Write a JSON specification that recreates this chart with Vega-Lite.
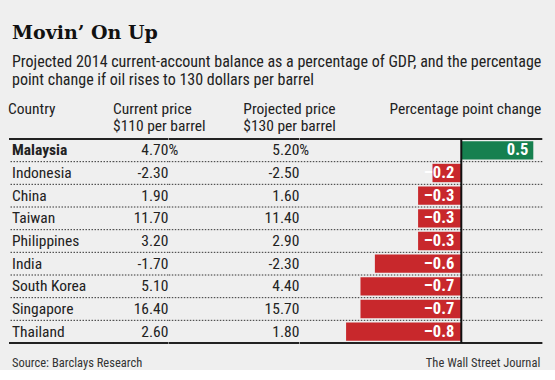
{
  "$schema": "https://vega.github.io/schema/vega-lite/v6.json",
  "background": "#efefef",
  "padding": {"left": 8, "top": 23, "right": 12, "bottom": 0},
  "bounds": "flush",
  "spacing": 0,
  "title": {
    "text": "Movin’ On Up",
    "subtitle": ["Projected 2014 current-account balance as a percentage of GDP, and the percentage", "point change if oil rises to 130 dollars per barrel"],
    "anchor": "start",
    "frame": "group",
    "dx": 3,
    "font": "DejaVu Serif",
    "fontSize": 19,
    "fontWeight": "bold",
    "color": "#111",
    "subtitleFont": "Roboto Condensed, Lato, sans-serif",
    "subtitleFontSize": 16,
    "subtitleLineHeight": 18,
    "subtitleColor": "#222",
    "subtitlePadding": 11,
    "offset": 14
  },
  "config": {
    "view": {"stroke": null},
    "locale": {"number": {"decimal": ".", "thousands": ",", "grouping": [3], "currency": ["$", ""], "minus": "-"}},
    "title": {"font": "Roboto Condensed, Lato, sans-serif", "fontSize": 15.5, "fontWeight": "normal", "color": "#222", "lineHeight": 17, "offset": 4, "anchor": "start"},
    "text": {"font": "Roboto Condensed, Lato, sans-serif", "fontSize": 15.5, "color": "#222", "baseline": "middle"}
  },
  "datasets": {
    "rows": [
      {"country": "Malaysia", "cur": 4.7, "proj": 5.2, "chg": 0.5},
      {"country": "Indonesia", "cur": -2.3, "proj": -2.5, "chg": -0.2},
      {"country": "China", "cur": 1.9, "proj": 1.6, "chg": -0.3},
      {"country": "Taiwan", "cur": 11.7, "proj": 11.4, "chg": -0.3},
      {"country": "Philippines", "cur": 3.2, "proj": 2.9, "chg": -0.3},
      {"country": "India", "cur": -1.7, "proj": -2.3, "chg": -0.6},
      {"country": "South Korea", "cur": 5.1, "proj": 4.4, "chg": -0.7},
      {"country": "Singapore", "cur": 16.4, "proj": 15.7, "chg": -0.7},
      {"country": "Thailand", "cur": 2.6, "proj": 1.8, "chg": -0.8}
    ]
  },
  "hconcat": [
    {
      "width": 105,
      "height": 204,
      "title": {"text": ["Country", " "]},
      "layer": [
        {"data": {"name": "rows"}, "mark": {"type": "rule", "strokeDash": [1.5, 1.5], "color": "#333", "strokeWidth": 1}, "encoding": {"y": {"field": "country", "type": "nominal", "sort": null, "bandPosition": 1, "axis": null, "scale": {"paddingInner": 0, "paddingOuter": 0}}}},
        {"data": {"name": "rows"}, "transform": [{"filter": "datum.country === 'Malaysia'"}], "mark": {"type": "rule", "color": "#222", "strokeWidth": 2}, "encoding": {"y": {"field": "country", "type": "nominal", "sort": null, "bandPosition": 0}}},
        {"data": {"name": "rows"}, "transform": [{"filter": "datum.country === 'Thailand'"}], "mark": {"type": "rule", "color": "#222", "strokeWidth": 2}, "encoding": {"y": {"field": "country", "type": "nominal", "sort": null, "bandPosition": 1}}},
        {"data": {"name": "rows"}, "transform": [{"filter": "datum.country !== 'Malaysia'"}], "mark": {"type": "text", "align": "left", "x": 0, "dx": 3}, "encoding": {"y": {"field": "country", "type": "nominal", "sort": null}, "text": {"field": "country"}}},
        {"data": {"name": "rows"}, "transform": [{"filter": "datum.country === 'Malaysia'"}], "mark": {"type": "text", "align": "left", "x": 0, "dx": 3, "fontWeight": "bold"}, "encoding": {"y": {"field": "country", "type": "nominal", "sort": null}, "text": {"field": "country"}}},
        {"data": {"values": [{"note": "Source: Barclays Research"}]}, "mark": {"type": "text", "align": "left", "x": 0, "dx": 3, "y": "height", "dy": 20, "fontSize": 12.5, "color": "#333"}, "encoding": {"text": {"field": "note"}}}
      ]
    },
    {
      "width": 54.4,
      "height": 204,
      "title": {"text": ["Current price", "$110 per barrel"]},
      "data": {"name": "rows"},
      "encoding": {"y": {"field": "country", "type": "nominal", "sort": null, "axis": null, "scale": {"paddingInner": 0, "paddingOuter": 0}}},
      "layer": [
        {"mark": {"type": "rule", "strokeDash": [1.5, 1.5], "color": "#333", "strokeWidth": 1}, "encoding": {"y": {"field": "country", "type": "nominal", "sort": null, "bandPosition": 1}}},
        {"transform": [{"filter": "datum.country === 'Malaysia'"}], "mark": {"type": "rule", "color": "#222", "strokeWidth": 2}, "encoding": {"y": {"field": "country", "type": "nominal", "sort": null, "bandPosition": 0}}},
        {"transform": [{"filter": "datum.country === 'Thailand'"}], "mark": {"type": "rule", "color": "#222", "strokeWidth": 2}, "encoding": {"y": {"field": "country", "type": "nominal", "sort": null, "bandPosition": 1}}},
        {"mark": {"type": "text", "align": "right", "x": "width"}, "encoding": {"text": {"field": "cur", "type": "quantitative", "format": ".2f"}}},
        {"transform": [{"filter": "datum.country === 'Malaysia'"}], "mark": {"type": "text", "align": "left", "x": "width", "text": "%"}}
      ]
    },
    {
      "width": 130.3,
      "height": 204,
      "title": {"text": ["Projected price", "$130 per barrel"], "dx": 75.3},
      "data": {"name": "rows"},
      "encoding": {"y": {"field": "country", "type": "nominal", "sort": null, "axis": null, "scale": {"paddingInner": 0, "paddingOuter": 0}}},
      "layer": [
        {"mark": {"type": "rule", "strokeDash": [1.5, 1.5], "color": "#333", "strokeWidth": 1}, "encoding": {"y": {"field": "country", "type": "nominal", "sort": null, "bandPosition": 1}}},
        {"transform": [{"filter": "datum.country === 'Malaysia'"}], "mark": {"type": "rule", "color": "#222", "strokeWidth": 2}, "encoding": {"y": {"field": "country", "type": "nominal", "sort": null, "bandPosition": 0}}},
        {"transform": [{"filter": "datum.country === 'Thailand'"}], "mark": {"type": "rule", "color": "#222", "strokeWidth": 2}, "encoding": {"y": {"field": "country", "type": "nominal", "sort": null, "bandPosition": 1}}},
        {"mark": {"type": "text", "align": "right", "x": "width"}, "encoding": {"text": {"field": "proj", "type": "quantitative", "format": ".2f"}}},
        {"transform": [{"filter": "datum.country === 'Malaysia'"}], "mark": {"type": "text", "align": "left", "x": "width", "text": "%"}}
      ]
    },
    {
      "width": 242.3,
      "height": 204,
      "title": {"text": ["Percentage point change", " "], "anchor": "end", "dx": -2},
      "layer": [
        {"data": {"name": "rows"}, "mark": {"type": "rule", "strokeDash": [1.5, 1.5], "color": "#333", "strokeWidth": 1}, "encoding": {"y": {"field": "country", "type": "nominal", "sort": null, "bandPosition": 1, "axis": null, "scale": {"paddingInner": 0, "paddingOuter": 0}}}},
        {"data": {"name": "rows"}, "mark": {"type": "bar", "height": {"band": 0.81}}, "encoding": {
          "y": {"field": "country", "type": "nominal", "sort": null},
          "x": {"field": "chg", "type": "quantitative", "axis": null, "scale": {"domain": [-1.12, 0.5625], "nice": false, "zero": true}},
          "color": {"condition": {"test": "datum.chg > 0", "value": "#16804f"}, "value": "#c8282c"}
        }},
        {"data": {"name": "rows"}, "transform": [{"filter": "datum.country === 'Malaysia'"}], "mark": {"type": "rule", "color": "#222", "strokeWidth": 2}, "encoding": {"y": {"field": "country", "type": "nominal", "sort": null, "bandPosition": 0}}},
        {"data": {"name": "rows"}, "transform": [{"filter": "datum.country === 'Thailand'"}], "mark": {"type": "rule", "color": "#222", "strokeWidth": 2}, "encoding": {"y": {"field": "country", "type": "nominal", "sort": null, "bandPosition": 1}}},
        {"data": {"values": [{"zero": 0}]}, "mark": {"type": "rule", "color": "#111", "strokeWidth": 2}, "encoding": {"x": {"field": "zero", "type": "quantitative"}}},
        {"data": {"name": "rows"}, "transform": [{"filter": "datum.chg > 0"}], "mark": {"type": "text", "align": "right", "dx": -5, "color": "white", "fontWeight": "bold", "fontSize": 16.5}, "encoding": {"y": {"field": "country", "type": "nominal", "sort": null}, "x": {"field": "chg", "type": "quantitative"}, "text": {"field": "chg", "type": "quantitative", "format": ".1f"}}},
        {"data": {"name": "rows"}, "transform": [{"filter": "datum.chg < 0"}], "mark": {"type": "text", "align": "right", "dx": -7, "color": "white", "fontWeight": "bold", "fontSize": 16.5, "text": {"expr": "'\u2013' + format(-datum.chg, '.1f')"}}, "encoding": {"y": {"field": "country", "type": "nominal", "sort": null}, "x": {"datum": 0, "type": "quantitative"}}},
        {"data": {"values": [{"note": "The Wall Street Journal"}]}, "mark": {"type": "text", "align": "right", "x": "width", "dx": -2, "y": "height", "dy": 20, "fontSize": 12.5, "color": "#333"}, "encoding": {"text": {"field": "note"}}}
      ]
    }
  ]
}
